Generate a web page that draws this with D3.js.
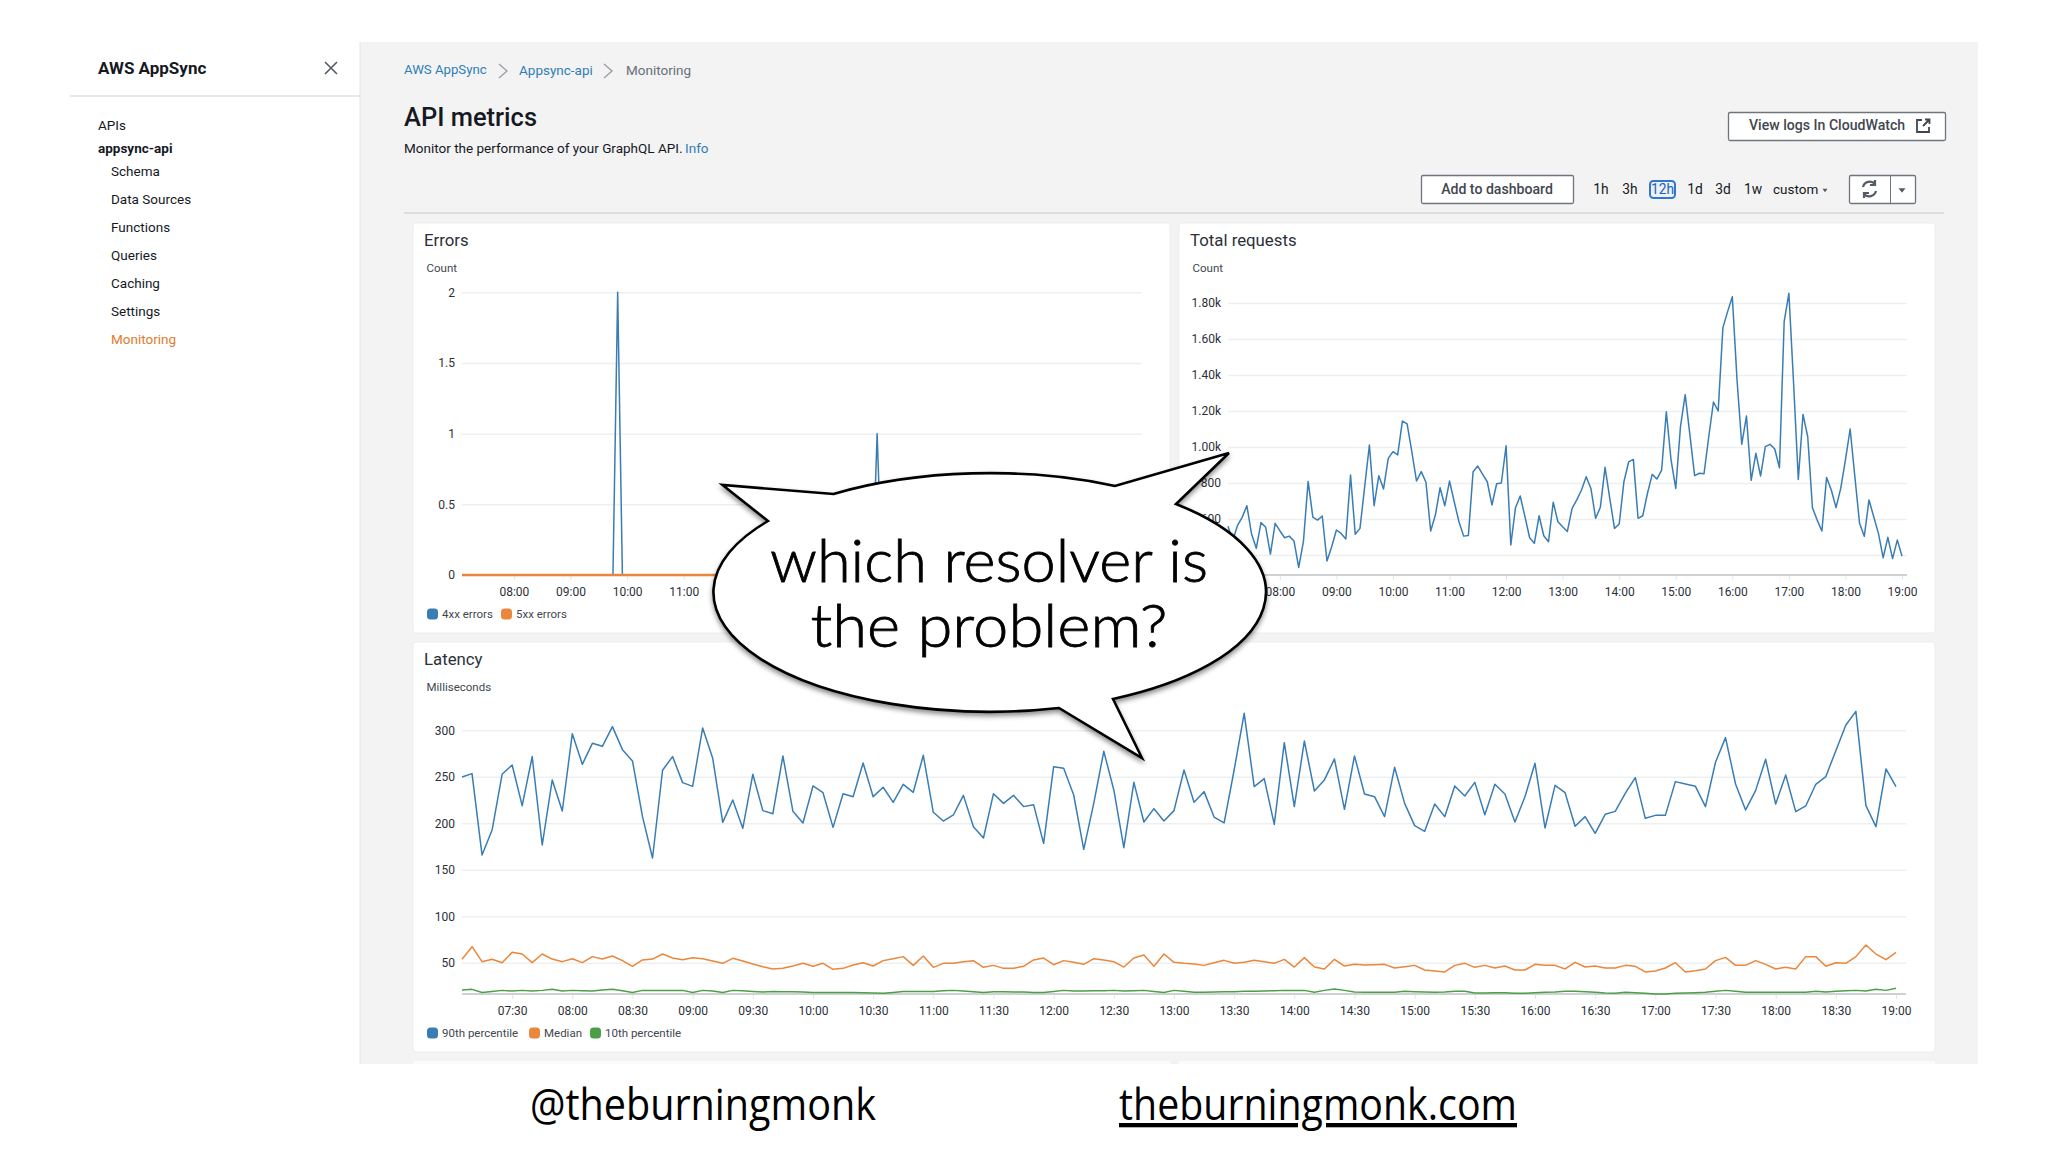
<!DOCTYPE html>
<html>
<head>
<meta charset="utf-8">
<title>API metrics</title>
<script src="https://cdn.jsdelivr.net/npm/d3@7"></script>
<style>
  html, body { margin: 0; padding: 0; background: #fff; }
  svg { display: block; }
  text { font-family: Roboto, "Noto Sans", sans-serif; fill: #16191f; }
  .axis text { font-size: 12px; fill: #2b3038; }
  .grid-line { stroke: #eef0f0; stroke-width: 1.5; }
  .tick-mark { stroke: #e3e5e5; }
</style>
</head>
<body>
<svg id="chart" width="2048" height="1152"></svg>
<script>
// the errors panel only shows these, the later hours sit behind the speech bubble
const errorHourTicks = ["08:00","09:00","10:00","11:00"];
const hourTicks = ["08:00","09:00","10:00","11:00","12:00","13:00","14:00","15:00","16:00","17:00","18:00","19:00"];
const halfHourTicks = ["07:30","08:00","08:30","09:00","09:30","10:00","10:30","11:00","11:30","12:00","12:30","13:00",
  "13:30","14:00","14:30","15:00","15:30","16:00","16:30","17:00","17:30","18:00","18:30","19:00"];
const errorTicks = [0, 0.5, 1, 1.5, 2];
const requestTicks = [400, 600, 800, 1000, 1200, 1400, 1600, 1800];
const latencyTicks = [50, 100, 150, 200, 250, 300];

// one value every 5 minutes, 07:05 to 19:00
const errors4xx = [
  0,0,0,0,0,0,0,0,0,0,0,0,
  0,0,0,0,0,0,0,0,0,0,0,0,
  0,0,0,0,0,0,0,0,0,2,0,0,
  0,0,0,0,0,0,0,0,0,0,0,0,
  0,0,0,0,0,0,0,0,0,0,0,0,
  0,0,0,0,0,0,0,0,0,0,0,0,
  0,0,0,0,0,0,0,0,0,0,0,0,
  0,0,0,0,1,0,0,0,0,0,0,0,
  0,0,0,0,0,0,0,0,0,0,0,0,
  0,0,0,0,0,0,0,0,0,0,0,0,
  0,0,0,0,0,0,0,0,0,0,0,0,
  0,0,0,0,0,0,0,0,0,0,0,0
];
const errors5xx = [
  0,0,0,0,0,0,0,0,0,0,0,0,
  0,0,0,0,0,0,0,0,0,0,0,0,
  0,0,0,0,0,0,0,0,0,0,0,0,
  0,0,0,0,0,0,0,0,0,0,0,0,
  0,0,0,0,0,0,0,0,0,0,0,0,
  0,0,0,0,0,0,0,0,0,0,0,0,
  0,0,0,0,0,0,0,0,0,0,0,0,
  0,0,0,0,0,0,0,0,0,0,0,0,
  0,0,0,0,0,0,0,0,0,0,0,0,
  0,0,0,0,0,0,0,0,0,0,0,0,
  0,0,0,0,0,0,0,0,0,0,0,0,
  0,0,0,0,0,0,0,0,0,0,0,0
];
const requests = [
  560,480,563,609,674,517,437,580,554,405,576,535,
  496,505,478,331,474,809,611,594,617,367,446,539,
  520,489,844,515,548,780,1011,674,841,767,937,974,
  956,1144,1128,974,811,863,804,533,622,774,674,811,
  696,585,505,509,863,894,850,807,678,796,800,1007,
  456,663,728,613,496,465,618,507,474,693,585,557,
  531,659,706,761,835,770,604,665,887,715,548,572,
  807,917,931,604,618,743,848,822,872,1196,928,770,
  1113,1291,1067,841,854,852,1057,1250,1200,1663,1752,1835,
  1372,1015,1172,815,965,839,1002,1015,989,885,1696,1854,
  1354,820,1181,1057,663,594,533,831,761,663,770,928,
  1100,835,576,504,706,613,520,385,498,380,483,394
];
const latencyP90 = [
  249.8,253.4,165.8,192.7,252.7,262.7,218.9,271.7,176.6,246.6,213.2,296.4,
  263.4,286,282.8,303.9,279.2,267,207.1,162.6,257,271.7,243.7,239.7,
  302.5,269.9,201,225,194.5,252.7,213.6,210.3,272.4,212.8,200.3,240.1,
  232.9,195.6,231.8,228.6,264.8,228.6,238.7,222.5,241.9,233.3,273.1,211.8,
  202.4,208.9,230,196.3,184.1,231.8,221.4,230,217.9,220,178.4,260.9,
  259.1,230.4,171.9,221.4,277.4,235.8,173.7,244,201.4,215.7,202.4,213.6,
  257.3,222.5,234,206.7,200.3,257.3,318.3,239.4,248,198.8,286.7,217.9,
  288.5,234.7,246.6,269.2,215,272.4,231.5,228.6,207.1,260.2,221.4,197.4,
  191.3,220.7,207.1,240.1,229.3,244,209.2,241.9,231.5,201.4,228.6,264.5,
  194.9,240.8,232.9,196.7,207.1,189.2,209.6,212.8,232.2,249.1,205.3,208.5,
  208.5,244.8,242.2,239.7,217.9,265.6,292.1,242.2,214.3,235.1,268.8,220.7,
  251.9,212.5,218.6,241.9,250.1,278.1,305.7,320.4,218.9,196.3,258.4,239.4
];
const latencyMedian = [
  53.6,67.2,51.1,53.6,50,61.1,59.3,50,59.3,53.9,51.1,54.3,
  50,56.5,53.9,57.2,52.2,46.1,52.9,53.9,59.3,55,53.2,55.4,
  54.3,51.8,49.3,54.7,51.8,48.6,45.7,43.2,43.9,46.4,49.3,46.1,
  49.3,42.8,43.9,47.5,50,46.4,52.2,54.3,56.5,47.1,57.2,45,
  49.3,49.3,51.1,52.2,45,47.1,43.9,43.9,46.1,52.9,55,47.8,
  52.2,50.4,48.2,54.3,52.9,51.1,45.3,55,58.2,46.1,59.3,50.4,
  49.3,48.6,47.1,50,52.5,49.3,50.4,52.5,51.1,49.3,53.6,45.3,
  55.4,45.3,43.2,53.6,46.4,48.2,47.5,47.8,48.2,44.3,45.7,47.1,
  42.1,41,40,47.1,49.3,45,47.1,44.3,46.4,42.1,42.1,48.2,
  47.1,47.1,43.2,50.4,45.3,46.4,44.3,44.3,47.1,46.1,40,41,
  44.3,50,40,41.4,43.2,52.2,55.7,47.1,47.1,52.2,48.2,43.2,
  45,43.2,56.5,56.5,46.1,50,49.3,56.5,69,59.3,53.2,61.1
];
const latencyP10 = [
  20.6,21.3,18,19.1,20.2,19.5,20.2,19.5,20.2,21.3,19.5,20.2,
  19.8,19.5,20.6,21.3,19.8,18,20.2,20.2,20.2,20.2,20.2,18,
  20.2,19.5,18,20.2,19.8,19.1,18.4,19.1,18.7,18.7,18.4,18,
  18,18,18,18,17.7,17.3,17,18,19.1,19.1,19.1,19.1,
  19.8,20.2,19.5,18.7,18,18.7,18.7,18.4,18.4,18,18,19.1,
  20.2,19.5,19.5,19.8,19.8,20.2,19.5,19.8,20.2,19.1,18,20.2,
  19.2,18.1,18.1,18.4,18.8,18.8,19.2,19.3,19.5,19.9,20.2,20.2,
  20.2,18.1,20.2,21.7,20.2,18.4,18.1,18.1,18.1,18.1,19.2,18.8,
  18.4,18.1,18.4,19.2,19.2,17.4,17.4,17.7,17.7,17,17,17.7,
  18.1,18.4,19.2,19.2,18.8,18.1,17.4,17,18.1,17.7,17,16.3,
  16.3,17,17.4,17.7,18.1,19.2,20.2,19.2,18.1,18.1,18.1,18.1,
  18.1,18.1,18.1,19.2,18.4,19.2,19.9,20.2,19.5,21.3,20.2,22.4
];

const sideLinks = ["Schema", "Data Sources", "Functions", "Queries", "Caching", "Settings", "Monitoring"];
const rangeButtons = [["1h", 1601], ["3h", 1630], ["12h", 1662.500], ["1d", 1695], ["3d", 1723], ["1w", 1753]];

const blue = "#3a7db5", orange = "#ea873c", green = "#4c9f46";
const linkBlue = "#2f7fb5", grey = "#687078", awsOrange = "#e07b30";

const svg = d3.select("#chart");
const parseTime = d3.timeParse("%H:%M");
const startTime = parseTime("07:05");
const times = requests.map((_, i) => d3.timeMinute.offset(startTime, i * 5));

svg.append("defs").append("filter").attr("id", "bubble-shadow")
  .attr("x", "-5%").attr("y", "-5%").attr("width", "110%").attr("height", "115%")
  .append("feDropShadow").attr("dx", 0).attr("dy", 3).attr("stdDeviation", 2.5)
  .attr("flood-color", "#000").attr("flood-opacity", 0.45);

function label(str, x, y, size, opts = {}) {
  return svg.append("text")
    .attr("x", x).attr("y", y).attr("dy", "0.3em")
    .attr("font-size", size)
    .attr("font-weight", opts.weight || 400)
    .attr("text-anchor", opts.anchor || "start")
    .style("fill", opts.color || "#16191f")
    .text(str);
}

function button(x, y, w, h) {
  svg.append("rect").attr("x", x + 0.5).attr("y", y + 0.5).attr("width", w).attr("height", h)
    .attr("rx", 1.5).attr("fill", "#fff").attr("stroke", "#6f757c").attr("stroke-width", 1.3);
}

function chevron(x, y) {
  svg.append("path").attr("d", `M${x - 4},${y - 7}L${x + 4},${y}L${x - 4},${y + 7}`)
    .attr("fill", "none").attr("stroke", "#9aa0a6").attr("stroke-width", 1.4);
}

function caret(x, y, size) {
  svg.append("path").attr("d", `M${x - size},${y - size / 2}L${x + size},${y - size / 2}L${x},${y + size / 2 + 1}Z`)
    .attr("fill", "#545b64");
}

// page frame
svg.append("rect").attr("x", 360).attr("y", 42).attr("width", 1618).attr("height", 1022).attr("fill", "#f3f3f4");
svg.append("line").attr("x1", 360).attr("x2", 360).attr("y1", 42).attr("y2", 1064).attr("stroke", "#e4e6e6");
svg.append("line").attr("x1", 70).attr("x2", 360).attr("y1", 96).attr("y2", 96).attr("stroke", "#dcdfe0").attr("stroke-width", 1.5);

// sidebar
label("AWS AppSync", 98, 68.700, 17, { weight: 700 });
svg.append("path").attr("d", "M325,62L337,74M337,62L325,74").attr("stroke", "#545b64").attr("stroke-width", 1.6);
label("APIs", 98, 125.500, 13.5);
label("appsync-api", 98, 148.500, 13.5, { weight: 700 });
sideLinks.forEach((d, i) => {
  label(d, 111, 171.500 + i * 28, 13.5, { color: d === "Monitoring" ? awsOrange : "#16191f" });
});

// header
label("AWS AppSync", 404, 70.500, 13.2, { color: linkBlue });
chevron(503, 71);
label("Appsync-api", 519, 70.500, 13.5, { color: linkBlue });
chevron(608, 71);
label("Monitoring", 626, 70.500, 13.5, { color: grey });
label("API metrics", 404, 118, 25.5, { weight: 500 });
label("Monitor the performance of your GraphQL API.", 404, 148.500, 13.5);
label("Info", 685, 148.500, 13.5, { color: linkBlue });

button(1728, 112, 217, 28);
label("View logs In CloudWatch", 1749, 125.500, 14.1, { weight: 500, color: "#414750" });
svg.append("path").attr("d", "M1922,120H1917V132H1929V127M1923,126L1929,120M1925,119.500H1929.500V124")
  .attr("fill", "none").attr("stroke", "#414750").attr("stroke-width", 1.8);

button(1421, 175, 152, 28);
label("Add to dashboard", 1497, 190, 14.1, { weight: 500, anchor: "middle", color: "#414750" });

svg.append("rect").attr("x", 1650).attr("y", 181).attr("width", 25).attr("height", 17).attr("rx", 3.5)
  .attr("fill", "#eaf1fa").attr("stroke", "#3476cc").attr("stroke-width", 2);
rangeButtons.forEach(([t, x]) => {
  label(t, x, 189.500, 13.8, { anchor: "middle", color: t === "12h" ? "#1f5fb8" : "#16191f" });
});
label("custom", 1773, 189.500, 13.5);
caret(1825, 190, 2.5);

button(1849, 175, 66, 28);
svg.append("line").attr("x1", 1890.500).attr("x2", 1890.500).attr("y1", 175).attr("y2", 203).attr("stroke", "#6f757c");
svg.append("path").attr("d", "M1863,187A7,7 0 0 1 1875,184M1875,180V185H1870M1876,191A7,7 0 0 1 1864,194M1864,198V193H1869")
  .attr("fill", "none").attr("stroke", "#545b64").attr("stroke-width", 2.2);
caret(1902, 190, 3.5);

svg.append("line").attr("x1", 404).attr("x2", 1944).attr("y1", 213).attr("y2", 213).attr("stroke", "#d5d8d8").attr("stroke-width", 1.5);

function card(x, y, w, h, title, unit) {
  svg.append("rect").attr("x", x).attr("y", y).attr("width", w).attr("height", h).attr("rx", 3)
    .attr("fill", "#fff").attr("stroke", "#ededee");
  label(title, x + 11, y + 18, 16.8, { color: "#2b3038" });
  label(unit, x + 13.500, y + 45.700, 11.5, { color: "#414750" });
}

function legend(items, y) {
  items.forEach(d => {
    svg.append("rect").attr("x", d.x).attr("y", y - 5.500).attr("width", 11).attr("height", 11)
      .attr("rx", 3.5).attr("fill", d.color);
    label(d.name, d.x + 15, y + 0.7, 11.5, { color: "#414750" });
  });
}

function lineChart(cfg) {
  const x = d3.scaleTime().domain([startTime, parseTime("19:00")]).range([cfg.left, cfg.right]);
  const y = d3.scaleLinear().domain(cfg.domain).range([cfg.bottom, cfg.top]);

  const yAxis = d3.axisLeft(y).tickValues(cfg.yTicks)
    .tickSize(-(cfg.gridEnd - cfg.left)).tickPadding(7).tickFormat(cfg.yFormat);
  const yG = svg.append("g").attr("class", "axis").attr("transform", `translate(${cfg.left},0)`).call(yAxis);
  yG.select(".domain").remove();
  yG.selectAll(".tick line").attr("class", "grid-line");

  const xAxis = d3.axisBottom(x).tickValues(cfg.xTicks.map(parseTime))
    .tickSize(5).tickPadding(7).tickFormat(d3.timeFormat("%H:%M"));
  const xG = svg.append("g").attr("class", "axis").attr("transform", `translate(0,${cfg.bottom})`).call(xAxis);
  xG.select(".domain").remove();
  xG.selectAll(".tick line").attr("class", "tick-mark");
  svg.append("line").attr("x1", cfg.left).attr("x2", cfg.gridEnd).attr("y1", cfg.bottom).attr("y2", cfg.bottom)
    .attr("stroke", "#cfd2d3").attr("stroke-width", 2);

  const line = d3.line().x((d, i) => x(times[i])).y(d => y(d));
  cfg.series.forEach(s => {
    svg.append("path").datum(s.values)
      .attr("d", line)
      .attr("fill", "none")
      .attr("stroke", s.color)
      .attr("stroke-width", s.width || 1.5)
      .attr("stroke-linejoin", "round");
  });
}

// errors
card(413, 223, 757, 410, "Errors", "Count");
lineChart({
  left: 462, right: 1136.6, gridEnd: 1142, top: 292.3, bottom: 575,
  domain: [0, 2], yTicks: errorTicks, yFormat: d3.format("~g"), xTicks: errorHourTicks,
  series: [{ values: errors4xx, color: blue }, { values: errors5xx, color: orange, width: 2.4 }]
});
legend([{ name: "4xx errors", color: blue, x: 427 }, { name: "5xx errors", color: orange, x: 501 }], 614);

// total requests
card(1179, 223, 756, 410, "Total requests", "Count");
lineChart({
  left: 1228, right: 1902, gridEnd: 1907, top: 303, bottom: 575,
  domain: [289, 1800], yTicks: requestTicks,
  // the 400 label is covered by the bubble, its grid line is not
  yFormat: d => d === 400 ? "" : d >= 1000 ? (d / 1000).toFixed(2) + "k" : d,
  xTicks: hourTicks,
  series: [{ values: requests, color: blue }]
});
legend([{ name: "Requests", color: blue, x: 1193 }], 614);

// latency
card(413, 642, 1522, 410, "Latency", "Milliseconds");
lineChart({
  left: 462, right: 1896, gridEnd: 1906, top: 730.3, bottom: 994,
  domain: [16.3, 300], yTicks: latencyTicks, yFormat: d3.format("d"), xTicks: halfHourTicks,
  series: [
    { values: latencyP90, color: blue },
    { values: latencyMedian, color: orange },
    { values: latencyP10, color: green }
  ]
});
legend([
  { name: "90th percentile", color: blue, x: 427 },
  { name: "Median", color: orange, x: 529 },
  { name: "10th percentile", color: green, x: 590 }
], 1033);

// row below, cut off by the slide edge
svg.append("rect").attr("x", 413).attr("y", 1061).attr("width", 757).attr("height", 3).attr("fill", "#fbfbfb");
svg.append("rect").attr("x", 1179).attr("y", 1061).attr("width", 756).attr("height", 3).attr("fill", "#fbfbfb");

// speech bubble
const rx = 277, ry = 119.5;
svg.append("path")
  .attr("d", `M768,521L722.500,485L833.500,494A${rx},${ry} 0 0 1 1115,486L1229,453L1176,504`
    + `A${rx},${ry} 0 0 1 1113,699L1142,758L1059,708A${rx},${ry} 0 0 1 768,521Z`)
  .attr("fill", "#fff").attr("stroke", "#000").attr("stroke-width", 2.6)
  .attr("stroke-linejoin", "miter").attr("filter", "url(#bubble-shadow)");

[["which resolver is", 582, 438], ["the problem?", 647, 357]].forEach(([t, y, w]) => {
  svg.append("text").attr("x", 989).attr("y", y).attr("text-anchor", "middle")
    .attr("font-size", 60).style("font-family", "Lato, 'Open Sans', sans-serif").attr("font-weight", 300)
    .attr("textLength", w).attr("lengthAdjust", "spacingAndGlyphs")
    .style("fill", "#000").attr("stroke", "#000").attr("stroke-width", 0.8).text(t);
});

// footer
svg.append("text").attr("x", 530).attr("y", 1120).attr("font-size", 43)
  .attr("textLength", 346).attr("lengthAdjust", "spacingAndGlyphs")
  .style("font-family", "'Open Sans', sans-serif").style("fill", "#000").text("@theburningmonk");
svg.append("text").attr("x", 1119).attr("y", 1120).attr("font-size", 43)
  .attr("textLength", 398).attr("lengthAdjust", "spacingAndGlyphs")
  .style("font-family", "'Open Sans', sans-serif").style("fill", "#000")
  .attr("text-decoration", "underline").text("theburningmonk.com");
</script>
</body>
</html>
